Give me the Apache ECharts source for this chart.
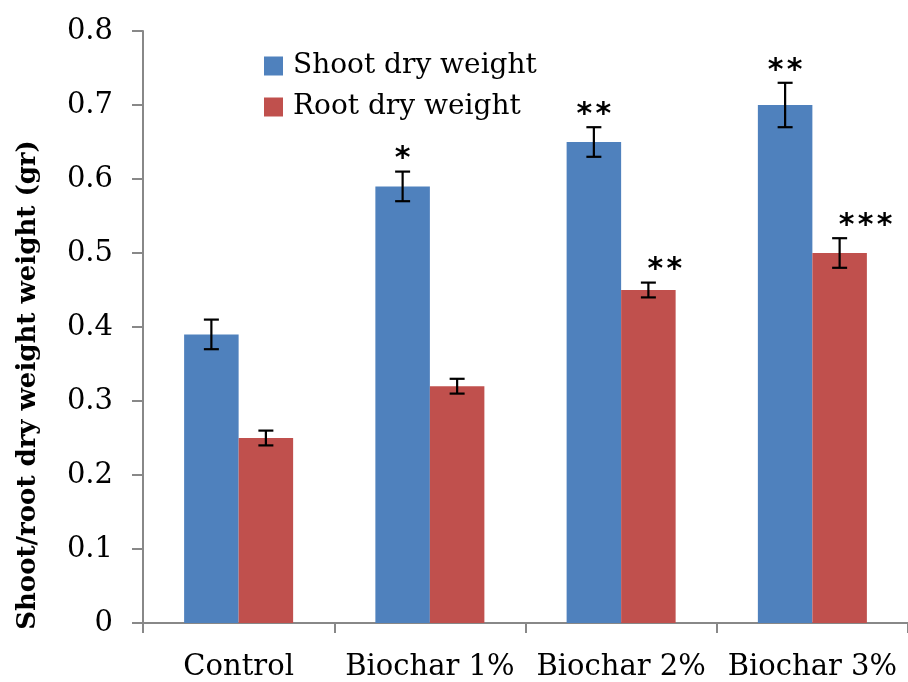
<!DOCTYPE html>
<html>
<head>
<meta charset="utf-8">
<script src="https://cdn.jsdelivr.net/npm/echarts@6/dist/echarts.min.js"></script>
<style>html,body{margin:0;padding:0;background:#fff}#c{width:908px;height:682px}</style>
</head>
<body>
<div id="c"></div>
<script>
const categories = ['Control', 'Biochar 1%', 'Biochar 2%', 'Biochar 3%'];
const shootValues = [0.39, 0.59, 0.65, 0.70];
const rootValues = [0.25, 0.32, 0.45, 0.50];
const shootErrors = [0.02, 0.02, 0.02, 0.03];
const rootErrors = [0.01, 0.01, 0.01, 0.02];
const shootSig = ['', '*', '**', '**'];
const rootSig = ['', '', '**', '***'];
const seriesNames = ['Shoot dry weight', 'Root dry weight'];
const yAxisTitle = 'Shoot/root dry weight weight (gr)';

const SERIF = '"DejaVu Serif", serif';
const GAP = 0.43;

function errorSeries(values, errors, sigs, side, name) {
  return {
    type: 'custom',
    name: name + ' error',
    z: 5,
    silent: true,
    data: values.map((v, i) => [i, v, errors[i]]),
    renderItem: function (params, api) {
      const idx = api.value(0), val = api.value(1), err = api.value(2);
      const sig = sigs[params.dataIndex];
      const band = api.size([1, 0])[0];
      const barW = band * (1 - GAP) / 2;
      const c = api.coord([idx, val]);
      const x = c[0] + side * barW / 2;
      const top = api.coord([idx, val + err])[1];
      const bot = api.coord([idx, val - err])[1];
      const cap = 7.5;
      const ls = { stroke: '#000', lineWidth: 2.2 };
      const children = [
        { type: 'line', shape: { x1: x, y1: top, x2: x, y2: bot }, style: ls },
        { type: 'line', shape: { x1: x - cap, y1: top, x2: x + cap, y2: top }, style: ls },
        { type: 'line', shape: { x1: x - cap, y1: bot, x2: x + cap, y2: bot }, style: ls }
      ];
      const n = sig.length;
      const step = 19;
      for (let k = 0; k < n; k++) {
        let ax;
        if (side < 0) ax = x + (k - (n - 1) / 2) * step;
        else ax = x + 7 + k * step;
        children.push({
          type: 'text',
          style: {
            x: ax, y: top + 3, text: '*',
            font: 'bold 30px "DejaVu Sans", sans-serif',
            fill: '#000', align: 'center', verticalAlign: 'bottom'
          }
        });
      }
      return { type: 'group', children: children };
    }
  };
}

const chart = echarts.init(document.getElementById('c'));
chart.setOption({
  animation: false,
  backgroundColor: '#fff',
  grid: { left: 143, top: 31, right: -8, bottom: 59, containLabel: false },
  legend: {
    orient: 'vertical',
    left: 259,
    top: 47,
    itemWidth: 19,
    itemHeight: 19,
    itemGap: 13,
    icon: 'rect',
    data: seriesNames,
    textStyle: { fontFamily: SERIF, fontSize: 28, color: '#000', padding: [0, 0, 0, 5] }
  },
  xAxis: {
    type: 'category',
    data: categories,
    axisLine: { lineStyle: { color: '#888', width: 2 } },
    axisTick: { show: true, interval: 0, length: 10, lineStyle: { color: '#888', width: 2 } },
    axisLabel: { interval: 0, fontFamily: SERIF, fontSize: 29, color: '#000', margin: 30 },
    splitLine: { show: false }
  },
  yAxis: {
    type: 'value',
    min: 0, max: 0.8, interval: 0.1,
    axisLine: { show: true, lineStyle: { color: '#888', width: 2 } },
    axisTick: { show: true, length: 11, lineStyle: { color: '#888', width: 2 } },
    axisLabel: {
      fontFamily: SERIF, fontSize: 29, color: '#000', margin: 30,
      formatter: v => (v === 0 ? '0' : v.toFixed(1))
    },
    splitLine: { show: false }
  },
  graphic: [{
    type: 'text',
    x: 28, y: 385,
    rotation: Math.PI / 2,
    style: {
      text: yAxisTitle,
      font: 'bold 26px ' + SERIF,
      fill: '#000', align: 'center', verticalAlign: 'middle'
    }
  }],
  series: [
    {
      name: seriesNames[0], type: 'bar', data: shootValues,
      barGap: '0%', barCategoryGap: (GAP * 100) + '%',
      itemStyle: { color: '#4f81bd' }
    },
    {
      name: seriesNames[1], type: 'bar', data: rootValues,
      barGap: '0%', barCategoryGap: (GAP * 100) + '%',
      itemStyle: { color: '#c0504d' }
    },
    errorSeries(shootValues, shootErrors, shootSig, -1, seriesNames[0]),
    errorSeries(rootValues, rootErrors, rootSig, 1, seriesNames[1])
  ]
});
</script>
</body>
</html>
